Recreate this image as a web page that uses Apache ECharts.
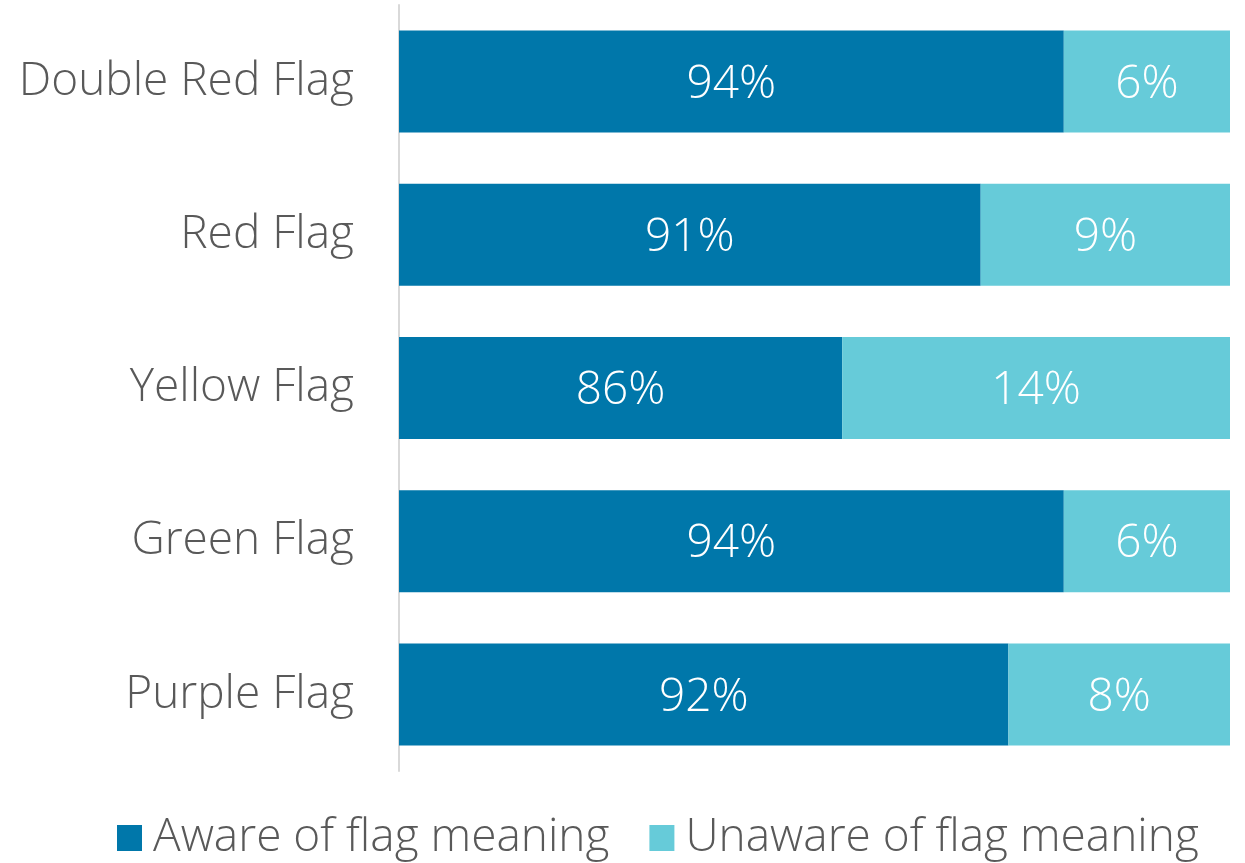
<!DOCTYPE html>
<html>
<head>
<meta charset="utf-8">
<style>
  html, body { margin: 0; padding: 0; background: #ffffff; }
  #chart { width: 1245px; height: 863px; }
</style>
<script src="https://cdn.jsdelivr.net/npm/echarts@6/dist/echarts.min.js"></script>
</head>
<body>
<div id="chart"></div>
<script>
// Flag awareness survey: share of respondents who know each flag's meaning
const categories = ['Double Red Flag', 'Red Flag', 'Yellow Flag', 'Green Flag', 'Purple Flag'];
const aware = [94, 91, 86, 94, 92];
const unaware = [6, 9, 14, 6, 8];
const seriesNames = ['Aware of flag meaning', 'Unaware of flag meaning'];

const FONT = '"Open Sans"';
const WEIGHT = 300;
const TEXT_GRAY = '#595959';
const DARK = '#0077AA';
const LIGHT = '#66CBD9';

const chart = echarts.init(document.getElementById('chart'), null, { renderer: 'canvas' });

const valueLabel = {
  show: true,
  position: 'inside',
  offset: [0, 3],
  color: '#ffffff',
  fontFamily: FONT,
  fontWeight: WEIGHT,
  fontSize: 46,
  formatter: p => p.value + '%'
};

chart.setOption({
  animation: false,
  textStyle: { fontFamily: FONT },
  grid: { left: 399, right: 15, top: 5, bottom: 92, containLabel: false },
  xAxis: {
    type: 'value',
    min: 70,
    max: 100,
    show: false
  },
  yAxis: {
    type: 'category',
    data: categories,
    inverse: true,
    axisLine: { show: true, lineStyle: { color: '#D9D9D9', width: 2 } },
    axisTick: { show: false },
    axisLabel: {
      color: TEXT_GRAY, fontFamily: FONT, fontWeight: WEIGHT, fontSize: 46,
      margin: 45, padding: [10, 0, 0, 0]
    },
    splitLine: { show: false }
  },
  legend: {
    bottom: -3,
    left: 112,
    itemWidth: 25,
    itemHeight: 26,
    itemGap: 40,
    icon: 'rect',
    textStyle: { color: TEXT_GRAY, fontFamily: FONT, fontWeight: WEIGHT, fontSize: 46, padding: [0, 0, 0, 6] },
    data: seriesNames
  },
  series: [
    {
      name: seriesNames[0],
      type: 'bar',
      stack: 'total',
      data: aware,
      barWidth: '66.6%',
      itemStyle: { color: DARK },
      label: valueLabel
    },
    {
      name: seriesNames[1],
      type: 'bar',
      stack: 'total',
      data: unaware,
      barWidth: '66.6%',
      itemStyle: { color: LIGHT },
      label: valueLabel
    }
  ]
});
</script>
</body>
</html>
